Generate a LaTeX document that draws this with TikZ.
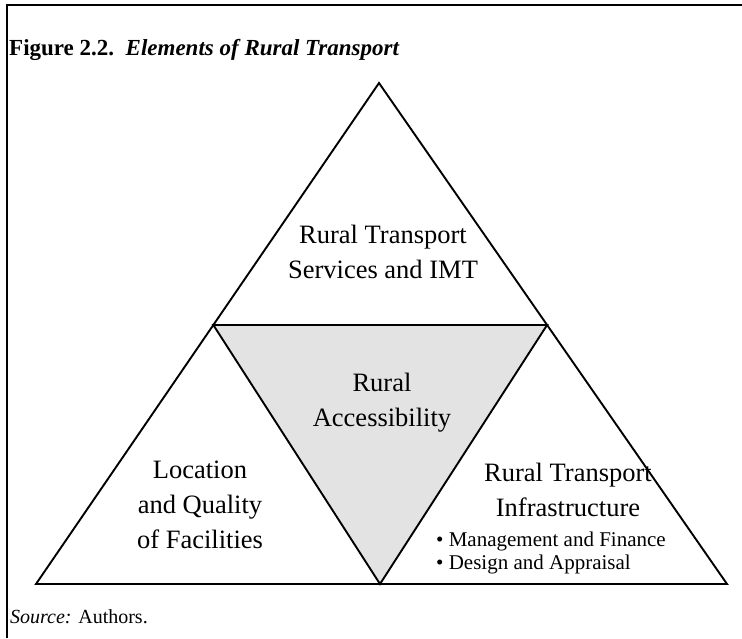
\documentclass[tikz,border=0pt]{standalone}
\usepackage{fontspec}
\setmainfont{Liberation Serif}
\usetikzlibrary{calc}
\begin{document}
\begin{tikzpicture}[x=1pt,y=-1pt,
  edge/.style={line width=1.9pt,line join=miter},
  frame/.style={line width=1.7pt},
  big/.style={font=\fontsize{26.5}{35}\selectfont,align=center,inner sep=0pt},
  small/.style={font=\fontsize{21}{23}\selectfont,align=left,inner sep=0pt,anchor=west},
  ]
\useasboundingbox (0,0) rectangle (742,638);
% vertices
\coordinate (A) at (379,83);
\coordinate (BL) at (36,584);
\coordinate (BR) at (727,584);
\coordinate (ML) at ($(BL)!0.517!(A)$);
\coordinate (MR) at ($(BR)!0.517!(A)$);
\coordinate (MB) at (380,584);
% frame
\coordinate (F1) at (7,638);
\coordinate (F2) at (7,5);
\coordinate (F3) at (742,5);
\draw[frame] (F1) -- (F2) -- (F3);
% inner triangle fill
\fill[black!11] (ML) -- (MR) -- (MB) -- cycle;
% triangles
\draw[edge] (A) -- (BR) -- (BL) -- cycle;
\draw[edge] (ML) -- (MR) -- (MB) -- cycle;
% title
\node[anchor=west,inner sep=0pt,font=\fontsize{23}{26}\selectfont] (title) at (9,50)
  {\textbf{Figure 2.2.}\ \ \textbf{\textit{Elements of Rural Transport}}};
% labels
\node[big] (top) at (383,252) {Rural Transport\\Services and IMT};
\node[big] (mid) at (382,403) {Rural\\Accessibility};
\node[big] (left) at (200,505) {Location\\and Quality\\of Facilities};
\node[big] (right) at (568,490) {Rural Transport\\Infrastructure};
\node[small] (b1) at (436,541) {\textbullet\ Management and Finance};
\node[small] (b2) at (436,564) {\textbullet\ Design and Appraisal};
\node[anchor=west,inner sep=0pt,font=\fontsize{20}{22}\selectfont] (src) at (10,617)
  {\textit{Source:} Authors.};
\end{tikzpicture}
\end{document}
